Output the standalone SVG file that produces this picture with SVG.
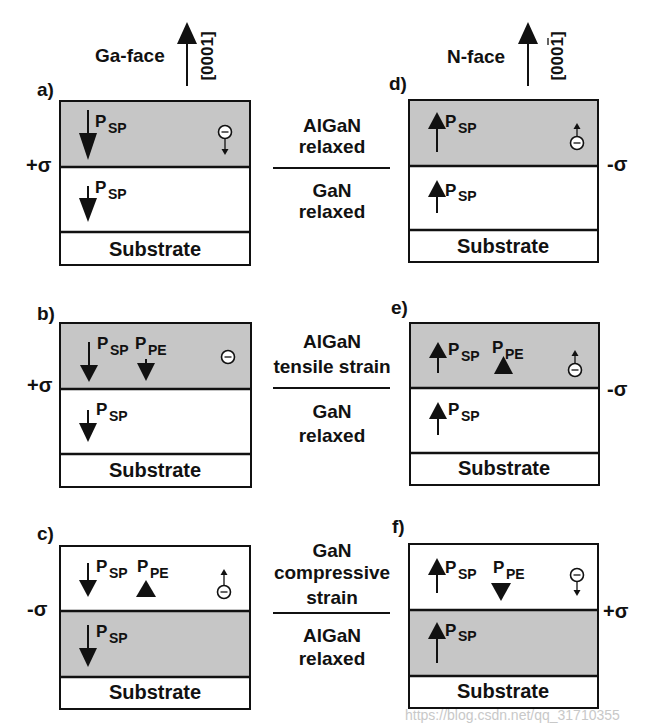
<svg xmlns="http://www.w3.org/2000/svg" width="653" height="726" viewBox="0 0 653 726">
<style>
text{font-family:"Liberation Sans","DejaVu Sans",Arial,sans-serif;font-weight:bold;fill:#111}
.p{font-size:17px}
.s{font-size:14px}
.mid{font-size:19px;text-anchor:middle}
.sub{font-size:20px;text-anchor:middle}
.lab{font-size:19px}
.sig{font-size:20px}
.box{fill:#fff;stroke:#111;stroke-width:2}
.gray{fill:#c6c6c6;stroke:#111;stroke-width:2}
.ln{stroke:#111;stroke-width:2.5;fill:none}
.sh{stroke:#111;stroke-width:2;fill:none}
.hd{fill:#111}
.ci{fill:#fff;stroke:#111;stroke-width:1.6}
.th{stroke:#111;stroke-width:1.3;fill:none}
.wm{font-family:"Liberation Sans",Arial,sans-serif;font-weight:normal;font-size:14px;fill:#bbb;opacity:0.8}
</style>

<g id="header-ga">
<text x="95" y="62" class="lab">Ga-face</text>
<line x1="187" y1="86" x2="187" y2="40" class="sh"/>
<polygon points="177,44 197,44 187,22" class="hd"/>
<text transform="translate(213,56) rotate(-90)" font-size="17" text-anchor="middle">[0001]</text>
</g>
<g id="header-n">
<text x="447" y="63" class="lab">N-face</text>
<line x1="528" y1="86" x2="528" y2="40" class="sh"/>
<polygon points="518,44 538,44 528,22" class="hd"/>
<text transform="translate(563,56) rotate(-90)" font-size="17" text-anchor="middle">[0001]</text>
<line x1="548" y1="38" x2="548" y2="45" class="th"/>
</g>

<!-- Panel a -->
<g id="panel-a">
<text x="37" y="96" class="lab">a)</text>
<rect x="60" y="101" width="190" height="164" class="box"/>
<rect x="60" y="101" width="190" height="66" class="gray"/>
<line x1="60" y1="167" x2="250" y2="167" class="ln"/>
<line x1="60" y1="232" x2="250" y2="232" class="ln"/>
<text x="155" y="256" class="sub">Substrate</text>
<text x="26" y="172" class="sig">+σ</text>
<line x1="88" y1="110" x2="88" y2="136" class="sh"/>
<polygon points="79,133 97,133 88,160" class="hd"/>
<text x="95" y="127" class="p">P</text><text x="108" y="133" class="s">SP</text>
<line x1="88" y1="186" x2="88" y2="200" class="sh"/>
<polygon points="79,198 97,198 88,222" class="hd"/>
<text x="95" y="193" class="p">P</text><text x="108" y="199" class="s">SP</text>
<circle cx="225" cy="132" r="6.5" class="ci"/><line x1="221.5" y1="132" x2="228.5" y2="132" class="th"/>
<line x1="225" y1="139" x2="225" y2="150" class="th"/><polygon points="221.5,149 228.5,149 225,155" class="hd"/>
</g>

<g id="mid-a">
<text x="332" y="132" class="mid">AlGaN</text>
<text x="332" y="153" class="mid">relaxed</text>
<text x="332" y="197" class="mid">GaN</text>
<text x="332" y="218" class="mid">relaxed</text>
</g>

<!-- Panel d -->
<g id="panel-d">
<text x="389" y="90" class="lab">d)</text>
<rect x="409" y="100" width="189" height="162" class="box"/>
<rect x="409" y="100" width="189" height="66" class="gray"/>
<line x1="409" y1="166" x2="598" y2="166" class="ln"/>
<line x1="409" y1="230" x2="598" y2="230" class="ln"/>
<text x="503" y="253" class="sub">Substrate</text>
<text x="607" y="171" class="sig">-σ</text>
<line x1="437" y1="126" x2="437" y2="152" class="sh"/>
<polygon points="428,129 446,129 437,112" class="hd"/>
<text x="445" y="127" class="p">P</text><text x="458" y="133" class="s">SP</text>
<line x1="437" y1="194" x2="437" y2="213" class="sh"/>
<polygon points="428,197 446,197 437,180" class="hd"/>
<text x="445" y="196" class="p">P</text><text x="458" y="201" class="s">SP</text>
<circle cx="577" cy="143" r="6.5" class="ci"/><line x1="573.5" y1="143" x2="580.5" y2="143" class="th"/>
<line x1="577" y1="136" x2="577" y2="128" class="th"/><polygon points="573.5,129 580.5,129 577,123" class="hd"/>
</g>

<!-- Panel b -->
<g id="panel-b">
<text x="37" y="320" class="lab">b)</text>
<rect x="60" y="323" width="191" height="164" class="box"/>
<rect x="60" y="323" width="191" height="66" class="gray"/>
<line x1="60" y1="389" x2="251" y2="389" class="ln"/>
<line x1="60" y1="454" x2="251" y2="454" class="ln"/>
<text x="155" y="477" class="sub">Substrate</text>
<text x="27" y="392" class="sig">+σ</text>
<line x1="89" y1="342" x2="89" y2="367" class="sh"/>
<polygon points="80,365 98,365 89,382" class="hd"/>
<text x="97" y="349" class="p">P</text><text x="110" y="355" class="s">SP</text>
<line x1="146" y1="359" x2="146" y2="365" class="sh"/>
<polygon points="137,363 155,363 146,381" class="hd"/>
<text x="135" y="349" class="p">P</text><text x="148" y="355" class="s">PE</text>
<line x1="88" y1="410" x2="88" y2="425" class="sh"/>
<polygon points="79,423 97,423 88,442" class="hd"/>
<text x="96" y="415" class="p">P</text><text x="109" y="421" class="s">SP</text>
<circle cx="228" cy="357" r="6.5" class="ci"/><line x1="224.5" y1="357" x2="231.5" y2="357" class="th"/>
</g>

<g id="mid-b">
<text x="332" y="348" class="mid">AlGaN</text>
<text x="332" y="373" class="mid">tensile strain</text>
<text x="332" y="418" class="mid">GaN</text>
<text x="332" y="442" class="mid">relaxed</text>
</g>

<!-- Panel e -->
<g id="panel-e">
<text x="391" y="314" class="lab">e)</text>
<rect x="410" y="323" width="189" height="162" class="box"/>
<rect x="410" y="323" width="189" height="65" class="gray"/>
<line x1="410" y1="388" x2="599" y2="388" class="ln"/>
<line x1="410" y1="453" x2="599" y2="453" class="ln"/>
<text x="504" y="475" class="sub">Substrate</text>
<text x="607" y="396" class="sig">-σ</text>
<line x1="438" y1="355" x2="438" y2="373" class="sh"/>
<polygon points="429,358 447,358 438,342" class="hd"/>
<text x="448" y="355" class="p">P</text><text x="461" y="361" class="s">SP</text>
<polygon points="494,374 513,374 503.5,356" class="hd"/>
<text x="492" y="353" class="p">P</text><text x="505" y="359" class="s">PE</text>
<line x1="438" y1="416" x2="438" y2="435" class="sh"/>
<polygon points="429,419 447,419 438,402" class="hd"/>
<text x="448" y="415" class="p">P</text><text x="461" y="421" class="s">SP</text>
<circle cx="575" cy="370" r="6.5" class="ci"/><line x1="571.5" y1="370" x2="578.5" y2="370" class="th"/>
<line x1="575" y1="363" x2="575" y2="355" class="th"/><polygon points="571.5,356 578.5,356 575,350" class="hd"/>
</g>

<!-- Panel c -->
<g id="panel-c">
<text x="37" y="540" class="lab">c)</text>
<rect x="60" y="546" width="190" height="163" class="box"/>
<rect x="60" y="611" width="190" height="66" class="gray"/>
<line x1="60" y1="611" x2="250" y2="611" class="ln"/>
<line x1="60" y1="677" x2="250" y2="677" class="ln"/>
<text x="155" y="699" class="sub">Substrate</text>
<text x="27" y="616" class="sig">-σ</text>
<line x1="88" y1="563" x2="88" y2="582" class="sh"/>
<polygon points="79,580 97,580 88,597" class="hd"/>
<text x="96" y="572" class="p">P</text><text x="109" y="578" class="s">SP</text>
<polygon points="136,597 156,597 146,580" class="hd"/>
<text x="137" y="572" class="p">P</text><text x="150" y="578" class="s">PE</text>
<line x1="88" y1="625" x2="88" y2="650" class="sh"/>
<polygon points="79,648 97,648 88,667" class="hd"/>
<text x="96" y="637" class="p">P</text><text x="109" y="643" class="s">SP</text>
<circle cx="224" cy="592" r="6.5" class="ci"/><line x1="220.5" y1="592" x2="227.5" y2="592" class="th"/>
<line x1="224" y1="585" x2="224" y2="574" class="th"/><polygon points="220.5,575 227.5,575 224,569" class="hd"/>
</g>

<g id="mid-c">
<text x="332" y="557" class="mid">GaN</text>
<text x="332" y="579" class="mid">compressive</text>
<text x="332" y="604" class="mid">strain</text>
<text x="332" y="642" class="mid">AlGaN</text>
<text x="332" y="665" class="mid">relaxed</text>
</g>

<!-- Panel f -->
<g id="panel-f">
<text x="392" y="533" class="lab">f)</text>
<rect x="409" y="544" width="189" height="164" class="box"/>
<rect x="409" y="610" width="189" height="66" class="gray"/>
<line x1="409" y1="610" x2="598" y2="610" class="ln"/>
<line x1="409" y1="676" x2="598" y2="676" class="ln"/>
<text x="503" y="698" class="sub">Substrate</text>
<text x="603" y="618" class="sig">+σ</text>
<line x1="437" y1="572" x2="437" y2="593" class="sh"/>
<polygon points="428,575 446,575 437,558" class="hd"/>
<text x="445" y="573" class="p">P</text><text x="458" y="579" class="s">SP</text>
<polygon points="491,583 511,583 501,601" class="hd"/>
<text x="493" y="573" class="p">P</text><text x="506" y="579" class="s">PE</text>
<line x1="437" y1="636" x2="437" y2="663" class="sh"/>
<polygon points="428,639 446,639 437,622" class="hd"/>
<text x="445" y="636" class="p">P</text><text x="458" y="641" class="s">SP</text>
<circle cx="577" cy="575" r="6.5" class="ci"/><line x1="573.5" y1="575" x2="580.5" y2="575" class="th"/>
<line x1="577" y1="582" x2="577" y2="591" class="th"/><polygon points="573.5,590 580.5,590 577,596" class="hd"/>
</g>

<g id="connectors">
<line x1="273" y1="168" x2="390" y2="168" class="sh"/>
<line x1="273" y1="388" x2="390" y2="388" class="sh"/>
<line x1="273" y1="613" x2="390" y2="613" class="sh"/>
</g>

<text x="405" y="720" class="wm">https://blog.csdn.net/qq_31710355</text>
</svg>
